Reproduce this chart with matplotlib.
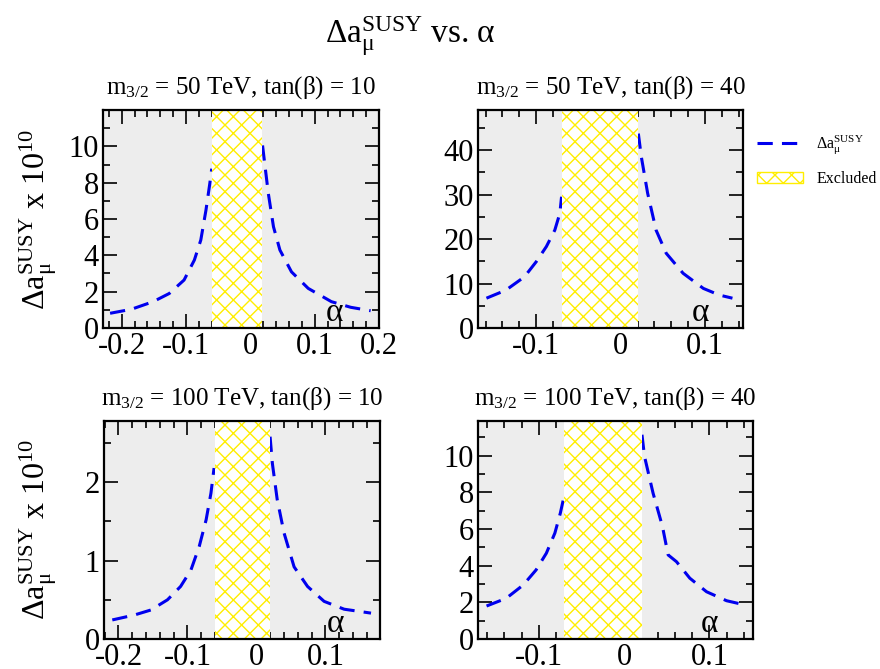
import matplotlib
matplotlib.use("Agg")
import matplotlib.pyplot as plt
from matplotlib.ticker import MultipleLocator
from matplotlib.lines import Line2D
from matplotlib.patches import Patch

plt.rcParams['font.family'] = ['Liberation Serif', 'DejaVu Serif']
plt.rcParams['mathtext.fontset'] = 'custom'
plt.rcParams['mathtext.rm'] = 'Liberation Serif'
plt.rcParams['mathtext.it'] = 'Liberation Serif'
plt.rcParams['hatch.linewidth'] = 1.0

# ---------------- data ----------------
# m3/2 = 50 TeV, tan(beta) = 10
tl_left_x = [-0.218, -0.185, -0.151, -0.126, -0.103, -0.087, -0.077, -0.069, -0.063, -0.060]
tl_left_y = [0.81, 1.03, 1.45, 1.90, 2.64, 3.74, 4.84, 6.48, 7.95, 8.77]
tl_right_x = [0.019, 0.023, 0.028, 0.036, 0.046, 0.064, 0.090, 0.126, 0.156, 0.187]
tl_right_y = [10.05, 8.86, 7.40, 5.57, 4.29, 3.09, 2.18, 1.45, 1.14, 0.95]

# m3/2 = 50 TeV, tan(beta) = 40
tr_left_x = [-0.159, -0.136, -0.114, -0.100, -0.088, -0.078, -0.072, -0.070]
tr_left_y = [6.7, 8.5, 11.5, 14.9, 18.3, 22.0, 25.8, 29.5]
tr_right_x = [0.021, 0.0245, 0.032, 0.042, 0.054, 0.074, 0.098, 0.117, 0.1325]
tr_right_y = [43.7, 38.5, 30.3, 22.0, 16.8, 12.3, 8.9, 7.4, 6.7]

# m3/2 = 100 TeV, tan(beta) = 10
bl_left_x = [-0.209, -0.177, -0.153, -0.129, -0.110, -0.095, -0.083, -0.073, -0.066, -0.0615]
bl_left_y = [0.243, 0.306, 0.37, 0.50, 0.67, 0.88, 1.18, 1.52, 1.86, 2.18]
bl_right_x = [0.0197, 0.023, 0.030, 0.040, 0.0545, 0.074, 0.098, 0.127, 0.166]
bl_right_y = [2.58, 2.24, 1.78, 1.35, 0.92, 0.67, 0.48, 0.38, 0.33]

# m3/2 = 100 TeV, tan(beta) = 40
br_left_x = [-0.161, -0.138, -0.118, -0.103, -0.091, -0.081, -0.0746, -0.0707]
br_left_y = [1.80, 2.22, 2.95, 3.77, 4.68, 5.78, 6.87, 7.69]
br_right_x = [0.021, 0.024, 0.034, 0.045, 0.0516, 0.0614, 0.077, 0.0966, 0.120, 0.1415]
br_right_y = [11.15, 9.96, 7.96, 6.14, 4.59, 4.22, 3.32, 2.58, 2.09, 1.86]

titles = ['m$_{3/2}$ = 50 TeV, tan(β) = 10', 'm$_{3/2}$ = 50 TeV, tan(β) = 40',
          'm$_{3/2}$ = 100 TeV, tan(β) = 10', 'm$_{3/2}$ = 100 TeV, tan(β) = 40']
excluded = [(-0.06, 0.018), (-0.07, 0.02), (-0.06, 0.02), (-0.07, 0.021)]

# ---------------- plotting ----------------
W, H = 880, 669
fig = plt.figure(figsize=(W / 100, H / 100), dpi=100)

def px_axes(left, top, right, bottom):
    return fig.add_axes([left / W, 1 - bottom / H, (right - left) / W, (bottom - top) / H])

panels = [
    dict(box=(103, 110, 379, 328), xlim=(-0.229, 0.196), ylim=(0, 12), yt=range(0, 11, 2), ym=1,
         curves=[(tl_left_x, tl_left_y), (tl_right_x, tl_right_y)], xt=[-0.2, -0.1, 0, 0.1, 0.2]),
    dict(box=(478, 110, 743, 328), xlim=(-0.169, 0.145), ylim=(0, 49), yt=range(0, 41, 10), ym=5,
         curves=[(tr_left_x, tr_left_y), (tr_right_x, tr_right_y)], xt=[-0.1, 0, 0.1]),
    dict(box=(104, 421, 380, 639), xlim=(-0.221, 0.179), ylim=(0, 2.78), yt=[0, 1, 2], ym=0.5,
         curves=[(bl_left_x, bl_left_y), (bl_right_x, bl_right_y)], xt=[-0.2, -0.1, 0, 0.1]),
    dict(box=(478, 421, 753, 639), xlim=(-0.171, 0.151), ylim=(0, 11.9), yt=range(0, 11, 2), ym=1,
         curves=[(br_left_x, br_left_y), (br_right_x, br_right_y)], xt=[-0.1, 0, 0.1]),
]

fs = 22
for i, p in enumerate(panels):
    ax = px_axes(*p['box'])
    ax.set_facecolor('#ededed')
    for xs, ys in p['curves']:
        ax.plot(xs, ys, color='#0000ee', lw=2.2, ls=(0, (5, 3)), zorder=2)
    lo, hi = excluded[i]
    ax.axvspan(lo, hi, facecolor='white', edgecolor='#ffee00', hatch='xx', lw=0, zorder=3)
    ax.set_xlim(*p['xlim'])
    ax.set_ylim(*p['ylim'])
    ax.set_xticks(p['xt'])
    ax.set_xticklabels(['%g' % t for t in p['xt']])
    ax.set_yticks(list(p['yt']))
    ax.xaxis.set_minor_locator(MultipleLocator(0.02))
    ax.yaxis.set_minor_locator(MultipleLocator(p['ym']))
    ax.tick_params(which='both', direction='in', top=True, right=True, width=1.2)
    ax.tick_params(which='major', length=10, labelsize=fs, pad=3)
    ax.tick_params(which='minor', length=5)
    for s in ax.spines.values():
        s.set_linewidth(1.6)
        s.set_zorder(5)
    ax.set_title(titles[i], fontsize=18, pad=12)
    ax.text(0.84, 0.0, 'α', transform=ax.transAxes, fontsize=24, ha='center', va='bottom', zorder=6)

ylab = r'$\Delta\mathrm{a}_{\mu}^{\mathrm{SUSY}}$ x 10$^{10}$'
fig.text(38 / W, 1 - 220 / H, ylab, rotation=90, fontsize=23, ha='center', va='center')
fig.text(38 / W, 1 - 530 / H, ylab, rotation=90, fontsize=23, ha='center', va='center')

fig.text(410 / W, 1 - 36 / H, r'$\Delta\mathrm{a}_{\mu}^{\mathrm{SUSY}}$ vs. α', fontsize=24,
         ha='center', va='center')

handles = [Line2D([], [], color='#0000ee', lw=2.2, ls=(0, (5, 3))),
           Patch(facecolor='white', edgecolor='#ffee00', hatch='xx', lw=1)]
fig.legend(handles, [r'$\Delta\mathrm{a}_{\mu}^{\mathrm{SUSY}}$', 'Excluded'],
           loc='upper left', bbox_to_anchor=(757 / W, 1 - 134 / H), frameon=False,
           fontsize=11.5, handlelength=2.9, handletextpad=0.8, labelspacing=0.9,
           borderpad=0, borderaxespad=0)

fig.savefig('out.png', dpi=100)
